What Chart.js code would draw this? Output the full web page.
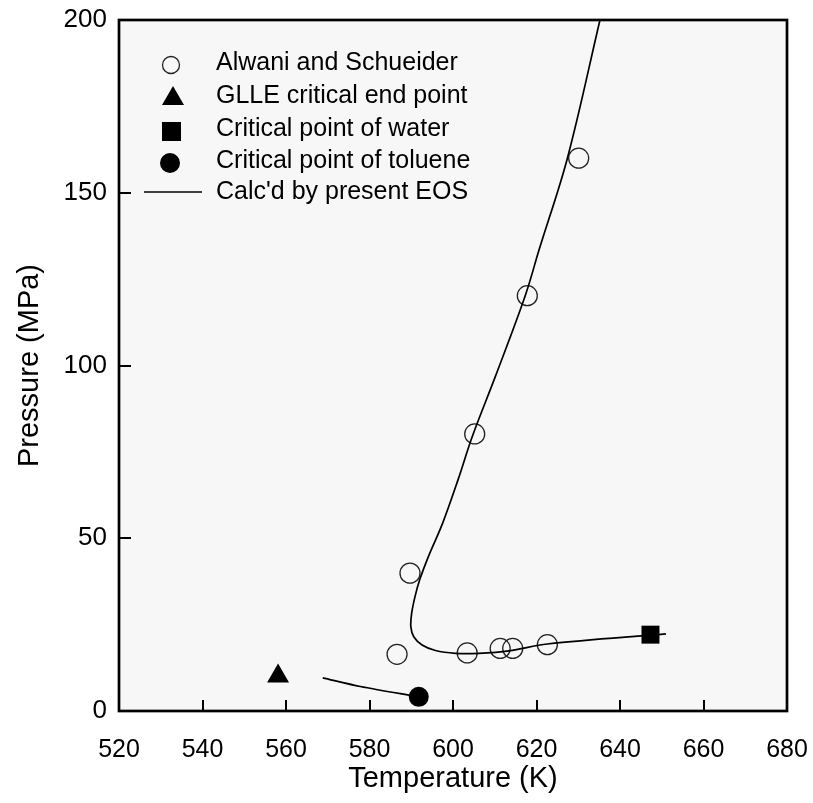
<!DOCTYPE html>
<html>
<head>
<meta charset="utf-8">
<script src="https://cdn.jsdelivr.net/npm/chart.js@4.4.0/dist/chart.umd.min.js"></script>
<style>
  html, body { margin: 0; padding: 0; background: #fff; }
  #wrap { width: 813px; height: 803px; }
</style>
</head>
<body>
<div id="wrap"><canvas id="myChart" width="813" height="803"></canvas></div>
<script>
// data (T in K, P in MPa)
const alwaniT = [586.6, 589.7, 603.4, 611.3, 614.3, 622.6, 605.2, 617.8, 630.1];
const alwaniP = [16.4, 39.9, 16.8, 18.1, 18.1, 19.2, 80.2, 120.2, 160.0];
const glleT = [558.1];
const glleP = [10.1];
const waterT = [647.3];
const waterP = [22.1];
const tolueneT = [591.8];
const tolueneP = [4.1];
// calculated curve, upper branch then lower branch
const eosT = [635.2, 627.4, 620.6, 617.3, 610.2, 604.6, 601.2, 597.5, 594.1, 592.0, 590.9, 590.1, 589.9, 590.6, 592.6, 595.8, 600.6, 606.2, 613.4, 622.6, 651.0];
const eosP = [200, 160, 133.4, 120.2, 97, 79.4, 66.9, 54.3, 44.7, 37.9, 33.1, 28.3, 24.4, 21.5, 19.1, 17.5, 16.7, 16.7, 17.4, 19.4, 22.3];
const eos2T = [568.8, 577.8, 591.8];
const eos2P = [9.6, 7.1, 4.1];

const xTicks = [520, 540, 560, 580, 600, 620, 640, 660, 680];
const yTicks = [0, 50, 100, 150, 200];
const legendLabels = ['Alwani and Schueider', 'GLLE critical end point', 'Critical point of water', 'Critical point of toluene', "Calc'd by present EOS"];

const FONT = "'Liberation Sans', Arial, Helvetica, sans-serif";

function pts(xs, ys) {
  return xs.map((x, i) => ({ x: x, y: ys[i] }));
}

// plot background, frame and inward ticks
const framePlugin = {
  id: 'frame',
  beforeDatasetsDraw(chart) {
    const { ctx, chartArea: a } = chart;
    ctx.save();
    ctx.fillStyle = '#f7f7f7';
    ctx.fillRect(a.left, a.top, a.right - a.left, a.bottom - a.top);
    ctx.restore();
  },
  afterDatasetsDraw(chart) {
    const { ctx, chartArea: a, scales } = chart;
    ctx.save();
    ctx.strokeStyle = '#000';
    ctx.lineWidth = 2;
    xTicks.forEach(v => {
      const px = Math.round(scales.x.getPixelForValue(v));
      ctx.beginPath();
      ctx.moveTo(px, a.bottom);
      ctx.lineTo(px, a.bottom - 11);
      ctx.stroke();
    });
    yTicks.forEach(v => {
      const py = Math.round(scales.y.getPixelForValue(v));
      ctx.beginPath();
      ctx.moveTo(a.left, py);
      ctx.lineTo(a.left + 12, py);
      ctx.stroke();
    });
    ctx.lineWidth = 2.7;
    ctx.strokeRect(a.left, a.top, a.right - a.left, a.bottom - a.top);
    ctx.restore();
  }
};

// legend inside the plot, upper left
const legendPlugin = {
  id: 'insideLegend',
  afterDraw(chart) {
    const { ctx, chartArea: a } = chart;
    const symX = a.left + 52;
    const textX = a.left + 97;
    const rowY = [63, 96, 129, 161, 192];
    ctx.save();
    ctx.font = '25px ' + FONT;
    ctx.fillStyle = '#000';
    ctx.textBaseline = 'middle';
    legendLabels.forEach((t, i) => {
      ctx.fillText(t, textX, rowY[i]);
    });
    // symbols
    ctx.strokeStyle = '#222';
    ctx.lineWidth = 1.3;
    ctx.beginPath();
    ctx.arc(symX, rowY[0] + 2, 8.5, 0, Math.PI * 2);
    ctx.stroke();
    ctx.fillStyle = '#000';
    ctx.beginPath();
    ctx.moveTo(symX + 2, rowY[1] - 10);
    ctx.lineTo(symX + 13, rowY[1] + 9);
    ctx.lineTo(symX - 9, rowY[1] + 9);
    ctx.closePath();
    ctx.fill();
    ctx.fillRect(symX - 9, rowY[2] - 7, 19, 19);
    ctx.beginPath();
    ctx.arc(symX - 1, rowY[3] + 2, 10, 0, Math.PI * 2);
    ctx.fill();
    ctx.strokeStyle = '#000';
    ctx.lineWidth = 1.5;
    ctx.beginPath();
    ctx.moveTo(a.left + 25, rowY[4]);
    ctx.lineTo(a.left + 83, rowY[4]);
    ctx.stroke();
    ctx.restore();
  }
};

const ctx = document.getElementById('myChart').getContext('2d');
new Chart(ctx, {
  type: 'scatter',
  data: {
    datasets: [
      {
        label: legendLabels[4],
        data: pts(eosT, eosP),
        showLine: true,
        borderColor: '#000',
        borderWidth: 1.7,
        pointRadius: 0,
        tension: 0.35,
        fill: false
      },
      {
        label: legendLabels[4],
        data: pts(eos2T, eos2P),
        showLine: true,
        borderColor: '#000',
        borderWidth: 1.7,
        pointRadius: 0,
        tension: 0.3,
        fill: false
      },
      {
        label: legendLabels[0],
        data: pts(alwaniT, alwaniP),
        pointStyle: 'circle',
        pointRadius: 10,
        pointBackgroundColor: 'rgba(0,0,0,0)',
        pointBorderColor: '#222',
        pointBorderWidth: 1.3
      },
      {
        label: legendLabels[1],
        data: pts(glleT, glleP),
        pointStyle: 'triangle',
        pointRadius: 12.7,
        pointBackgroundColor: '#000',
        pointBorderColor: '#000',
        pointBorderWidth: 0
      },
      {
        label: legendLabels[2],
        data: pts(waterT, waterP),
        pointStyle: 'rect',
        pointRadius: 12.7,
        pointBackgroundColor: '#000',
        pointBorderColor: '#000',
        pointBorderWidth: 0
      },
      {
        label: legendLabels[3],
        data: pts(tolueneT, tolueneP),
        pointStyle: 'circle',
        pointRadius: 10,
        pointBackgroundColor: '#000',
        pointBorderColor: '#000',
        pointBorderWidth: 0
      }
    ]
  },
  options: {
    responsive: false,
    animation: false,
    layout: { padding: { top: 20, right: 26, left: 0, bottom: 0 } },
    plugins: {
      legend: { display: false },
      tooltip: { enabled: false }
    },
    scales: {
      x: {
        type: 'linear',
        min: 520,
        max: 680,
        afterBuildTicks(scale) {
          scale.ticks = xTicks.map(v => ({ value: v }));
        },
        afterFit(scale) {
          scale.height = 92;
          scale.paddingLeft = 0;
          scale.paddingRight = 0;
        },
        grid: { display: false, drawTicks: false },
        border: { display: false },
        ticks: {
          color: '#000',
          padding: 24,
          maxRotation: 0,
          font: { family: FONT, size: 25 }
        },
        title: {
          display: true,
          text: 'Temperature (K)',
          color: '#000',
          font: { family: FONT, size: 29 },
          padding: { top: 0, bottom: 7 }
        }
      },
      y: {
        type: 'linear',
        min: 0,
        max: 200,
        afterBuildTicks(scale) {
          scale.ticks = yTicks.map(v => ({ value: v }));
        },
        afterFit(scale) {
          scale.width = 119;
          scale.paddingTop = 0;
          scale.paddingBottom = 0;
        },
        grid: { display: false, drawTicks: false },
        border: { display: false },
        ticks: {
          color: '#000',
          padding: 12,
          font: { family: FONT, size: 26 }
        },
        title: {
          display: true,
          text: 'Pressure (MPa)',
          color: '#000',
          font: { family: FONT, size: 29 },
          padding: { top: 13, bottom: 0 }
        }
      }
    }
  },
  plugins: [framePlugin, legendPlugin]
});
</script>
</body>
</html>
